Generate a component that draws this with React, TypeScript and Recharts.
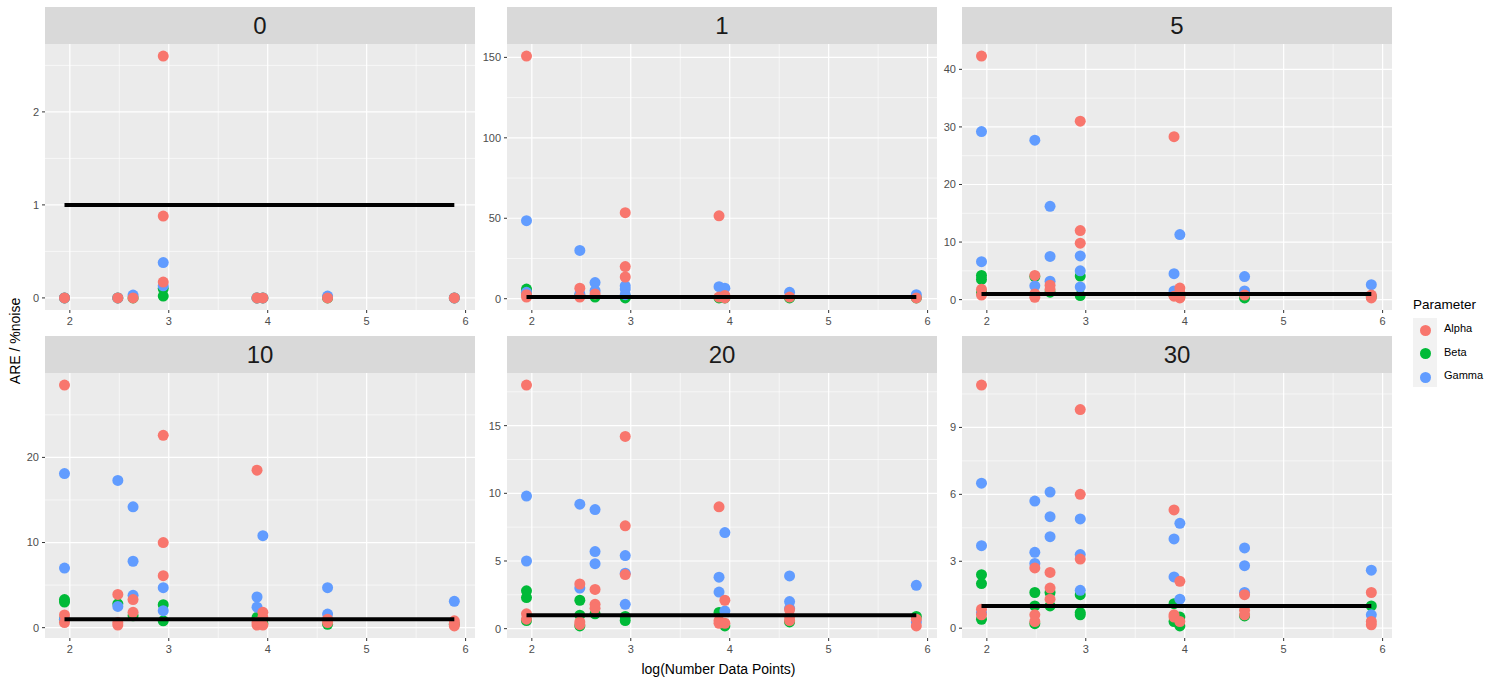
import { ScatterChart, Scatter, XAxis, YAxis, CartesianGrid } from "recharts";

// log(number of data points) for each dataset size
const logN = [1.946, 2.485, 2.639, 2.944, 3.892, 3.951, 4.605, 5.886];
const xTicks = [2, 3, 4, 5, 6];
const xMinor = [2.5, 3.5, 4.5, 5.5];
const xDomain: [number, number] = [1.749, 6.095];
const noiseLevels = ["0", "1", "5", "10", "20", "30"];
const parameters = ["Alpha", "Beta", "Gamma"];
const colors = ["#F8766D", "#00BA38", "#619CFF"];
const refLevel = 1;

// ARE / %noise values, grouped by x position (index into logN)
const alpha0 = [[0], [0], [0], [2.6, 0.88, 0.17], [0], [0], [0], [0]];
const beta0 = [[0], [0], [0], [0.1, 0.02], [0], [0], [0], [0]];
const gamma0 = [[0], [0], [0.03], [0.38, 0.13], [0], [0], [0.02], [0]];

const alpha1 = [[150.8, 2.5, 1], [6.5, 1], [3], [53.5, 20, 13.5], [51.5, 1], [2, 0.5], [1], [0.5]];
const beta1 = [[6, 3], [2], [1], [1.5, 0.5], [0.5], [0.5], [0.5], [0.5]];
const gamma1 = [[48.5, 4], [30, 3], [10, 5], [8, 6, 2.5], [7.5], [6.5], [4], [2.5]];

const alpha5 = [[42.3, 1.8, 0.8], [4.2, 1, 0.4], [2.5, 1.8], [31, 12, 9.8], [28.3, 0.6], [2, 1.2, 0.3], [0.8], [0.8, 0.3]];
const beta5 = [[4.2, 3.5, 1.2], [4], [1.3], [4.1, 0.7], [0.8], [0.5], [0.3], [0.5]];
const gamma5 = [[29.2, 6.6], [27.7, 2.4], [16.2, 7.5, 3.2], [7.6, 5, 2.2], [4.5, 1.5], [11.3], [4, 1.5], [2.6]];

const alpha10 = [[28.5, 1.5, 0.6], [3.9, 0.6, 0.3], [3.3, 1.8], [22.6, 10, 6.1], [18.5, 0.6, 0.3], [1.8, 1.2, 0.3], [1, 0.6], [0.8, 0.5, 0.2]];
const beta10 = [[3.3, 3, 1], [2.8], [1.4], [2.7, 0.8], [1.2], [0.5], [0.4], [0.4]];
const gamma10 = [[18.1, 7, 1], [17.3, 2.5], [14.2, 7.8, 3.8], [4.7, 2], [3.6, 2.4], [10.8], [4.7, 1.6], [3.1]];

const alpha20 = [[18, 1.1, 0.7], [3.3, 0.5, 0.3], [2.9, 1.8, 1.5], [14.2, 7.6, 4], [9, 0.6, 0.4], [2.1, 0.4], [1.4, 0.9, 0.6], [0.7, 0.2]];
const beta20 = [[2.8, 2.3, 0.6], [2.1, 1, 0.2], [1.1], [0.9, 0.6], [1.2], [0.2], [0.5], [0.9]];
const gamma20 = [[9.8, 5], [9.2, 3], [8.8, 5.7, 4.8], [5.4, 4.1, 1.8], [3.8, 2.7], [7.1, 1.3], [3.9, 2, 1.5], [3.2, 0.5]];

const alpha30 = [[10.9, 0.85, 0.6], [2.7, 0.6, 0.3], [2.5, 1.8, 1.3], [9.8, 6, 3.1], [5.3, 0.6, 0.5], [2.1, 0.3], [1.5, 0.8, 0.6], [1.6, 0.3, 0.15]];
const beta30 = [[2.4, 2, 0.4], [1.6, 1, 0.2], [1.6, 1], [1.5, 0.7, 0.6], [1.1, 0.3], [0.5, 0.1], [0.55], [1]];
const gamma30 = [[6.5, 3.7, 0.7], [5.7, 3.4, 2.9], [6.1, 5, 4.1], [4.9, 3.3, 1.7], [4, 2.3], [4.7, 1.3], [3.6, 2.8, 1.6], [2.6, 0.6]];

// y axis breaks per facet
const ticks0 = [0, 1, 2];
const minor0 = [0.5, 1.5, 2.5];
const ticks1 = [0, 50, 100, 150];
const minor1 = [25, 75, 125];
const ticks5 = [0, 10, 20, 30, 40];
const minor5 = [5, 15, 25, 35];
const ticks10 = [0, 10, 20];
const minor10 = [5, 15, 25];
const ticks20 = [0, 5, 10, 15];
const minor20 = [2.5, 7.5, 12.5, 17.5];
const ticks30 = [0, 3, 6, 9];
const minor30 = [1.5, 4.5, 7.5, 10.5];

const facetSeries = [
  [alpha0, beta0, gamma0],
  [alpha1, beta1, gamma1],
  [alpha5, beta5, gamma5],
  [alpha10, beta10, gamma10],
  [alpha20, beta20, gamma20],
  [alpha30, beta30, gamma30],
];
const facetTicks = [ticks0, ticks1, ticks5, ticks10, ticks20, ticks30];
const facetMinor = [minor0, minor1, minor5, minor10, minor20, minor30];

// layout (px)
const colLeft = [45, 507, 962];
const rows = [
  { strip: 7, top: 44, bottom: 310 },
  { strip: 336, top: 373, bottom: 638 },
];
const panelW = 430;
const yAxisW = 40;
const xAxisH = 22;
const font = "'Liberation Sans', Arial, sans-serif";

const toPoints = (groups: number[][]) =>
  groups.flatMap((vals, i) => vals.map((y) => ({ x: logN[i], y })));

// ggplot-style 5% expansion of the data range
const expand = (lo: number, hi: number): [number, number] => {
  const pad = (hi - lo) * 0.05;
  return [lo - pad, hi + pad];
};

const dot = (color: string) => (props: any) =>
  <circle cx={props.cx} cy={props.cy} r={5.5} fill={color} />;

const drawOrder = [1, 2, 0]; // Beta, Gamma, then Alpha on top

function Facet({ index }: { index: number }) {
  const series = facetSeries[index];
  const all = series.flat(2);
  const yDomain = expand(Math.min(...all), Math.max(...all));
  const row = rows[Math.floor(index / 3)];
  const left = colLeft[index % 3];
  const h = row.bottom - row.top;
  return (
    <>
      <div
        style={{
          position: "absolute",
          left,
          top: row.strip,
          width: panelW,
          height: row.top - row.strip,
          background: "#D9D9D9",
          color: "#1A1A1A",
          fontSize: 24,
          lineHeight: `${row.top - row.strip}px`,
          textAlign: "center",
        }}
      >
        {noiseLevels[index]}
      </div>
      <div style={{ position: "absolute", left: left - yAxisW, top: row.top }}>
        <ScatterChart
          width={panelW + yAxisW}
          height={h + xAxisH}
          margin={{ top: 0, right: 0, bottom: 0, left: 0 }}
        >
          <CartesianGrid
            fill="#EBEBEB"
            fillOpacity={1}
            stroke="#FFFFFF"
            strokeWidth={0.6}
            horizontalValues={facetMinor[index]}
            verticalValues={xMinor}
          />
          <CartesianGrid
            stroke="#FFFFFF"
            strokeWidth={1.2}
            horizontalValues={facetTicks[index]}
            verticalValues={xTicks}
          />
          <XAxis
            type="number"
            dataKey="x"
            domain={xDomain}
            ticks={xTicks}
            allowDataOverflow
            height={xAxisH}
            axisLine={false}
            tickSize={3}
            tickMargin={4}
            tickLine={{ stroke: "#333333" }}
            tick={{ fill: "#4D4D4D", fontSize: 11, fontFamily: font }}
          />
          <YAxis
            type="number"
            dataKey="y"
            domain={yDomain}
            ticks={facetTicks[index]}
            allowDataOverflow
            width={yAxisW}
            axisLine={false}
            tickSize={3}
            tickMargin={3}
            tickLine={{ stroke: "#333333" }}
            tick={{ fill: "#4D4D4D", fontSize: 11, fontFamily: font }}
          />
          {drawOrder.map((s) => (
            <Scatter
              key={parameters[s]}
              name={parameters[s]}
              data={toPoints(series[s])}
              fill={colors[s]}
              shape={dot(colors[s])}
              isAnimationActive={false}
            />
          ))}
          <Scatter
            data={[
              { x: logN[0], y: refLevel },
              { x: logN[logN.length - 1], y: refLevel },
            ]}
            fill="#000000"
            line={{ strokeWidth: 4 }}
            shape={() => <g />}
            isAnimationActive={false}
          />
        </ScatterChart>
      </div>
    </>
  );
}

export default function App() {
  return (
    <div
      style={{
        position: "absolute",
        left: 0,
        top: 0,
        width: 1501,
        height: 685,
        background: "#FFFFFF",
        fontFamily: font,
        overflow: "hidden",
      }}
    >
      {noiseLevels.map((_, i) => (
        <Facet key={i} index={i} />
      ))}

      {/* axis titles */}
      <div
        style={{
          position: "absolute",
          left: 45,
          width: 1347,
          top: 661,
          textAlign: "center",
          fontSize: 14,
          color: "#000",
        }}
      >
        log(Number Data Points)
      </div>
      <div
        style={{
          position: "absolute",
          left: 15,
          top: 341,
          transform: "translate(-50%, -50%) rotate(-90deg)",
          whiteSpace: "nowrap",
          fontSize: 14,
          color: "#000",
        }}
      >
        ARE / %noise
      </div>

      {/* legend */}
      <div style={{ position: "absolute", left: 1413, top: 297, fontSize: 13.5, color: "#000" }}>
        Parameter
      </div>
      <div
        style={{
          position: "absolute",
          left: 1413,
          top: 318,
          width: 24,
          height: 69,
          background: "#F2F2F2",
        }}
      />
      {parameters.map((p, i) => (
        <div key={p}>
          <div
            style={{
              position: "absolute",
              left: 1419.5,
              top: 324.5 + i * 23.5,
              width: 11,
              height: 11,
              borderRadius: "50%",
              background: colors[i],
            }}
          />
          <div
            style={{
              position: "absolute",
              left: 1444,
              top: 322 + i * 23.5,
              fontSize: 11,
              color: "#000",
            }}
          >
            {p}
          </div>
        </div>
      ))}
    </div>
  );
}
